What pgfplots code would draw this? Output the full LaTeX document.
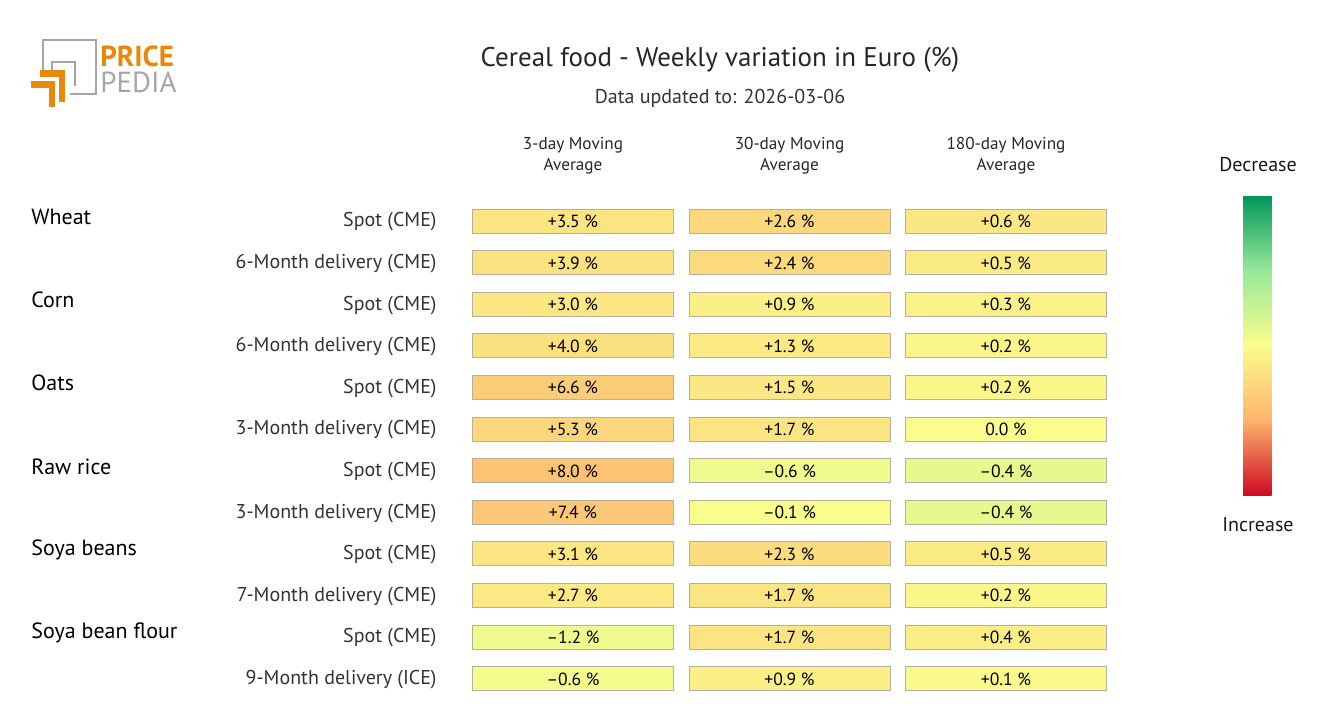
\documentclass[border=0pt]{standalone}
\usepackage{fontspec}
\setmainfont{PT Sans}
\usepackage{pgfplots}
\pgfplotsset{compat=1.18}
\usepackage{pgfplotstable}

% weekly variation (%), one table per moving-average column
\pgfplotstableread{
row val lab
0 3.5 +3.5
1 3.9 +3.9
2 3.0 +3.0
3 4.0 +4.0
4 6.6 +6.6
5 5.3 +5.3
6 8.0 +8.0
7 7.4 +7.4
8 3.1 +3.1
9 2.7 +2.7
10 -1.2 –1.2
11 -0.6 –0.6
}\maThree
\pgfplotstableread{
row val lab
0 2.6 +2.6
1 2.4 +2.4
2 0.9 +0.9
3 1.3 +1.3
4 1.5 +1.5
5 1.7 +1.7
6 -0.6 –0.6
7 -0.1 –0.1
8 2.3 +2.3
9 1.7 +1.7
10 1.7 +1.7
11 0.9 +0.9
}\maThirty
\pgfplotstableread{
row val lab
0 0.6 +0.6
1 0.5 +0.5
2 0.3 +0.3
3 0.2 +0.2
4 0.2 +0.2
5 0.0 0.0
6 -0.4 –0.4
7 -0.4 –0.4
8 0.5 +0.5
9 0.2 +0.2
10 0.4 +0.4
11 0.1 +0.1
}\maHundred

\definecolor{ppor}{RGB}{232,137,12}
\definecolor{ppgr}{RGB}{165,165,165}
\definecolor{cellborder}{RGB}{185,175,155}

\pgfdeclareplotmark{cell}{%
  \pgfpathrectangle{\pgfqpoint{-50.25pt}{-6pt}}{\pgfqpoint{100.5pt}{12pt}}%
  \pgfusepathqfillstroke}

\pgfplotsset{
  colormap={pp}{rgb255(0)=(0,150,90) rgb255(1)=(150,232,154) rgb255(2)=(250,253,140)
                rgb255(3)=(253,180,110) rgb255(4)=(205,10,35)},
  cellplot/.style={
    scatter, only marks, mark=cell, line width=0.5pt,
    scatter/use mapped color={draw=cellborder, fill=mapped color},
  },
  textplot/.style={
    only marks, mark=none, point meta=explicit symbolic,
    nodes near coords={\pgfplotspointmeta\ \%},
    every node near coord/.style={text=black, font=\fontsize{8.8}{9}\selectfont, inner sep=0pt},
  },
}

\begin{document}
\begin{tikzpicture}
\begin{axis}[
  width=660pt, height=360pt, scale only axis,
  xmin=0, xmax=1320, ymin=0, ymax=720, y dir=reverse,
  hide axis, clip=false,
  colormap name=pp,
  point meta min=-20, point meta max=20,
  colorbar,
  colorbar style={
    at={(parent axis.north west)}, anchor=north west,
    xshift=613pt, yshift=-97.5pt,
    width=15pt, height=150pt,
    y dir=reverse,
    ytick=\empty, axis line style={draw=none},
  },
]
\addplot[cellplot, point meta={\thisrow{val}}] table[x expr=573, y expr=221+41.6*\thisrow{row}] {\maThree};
\addplot[cellplot, point meta={2*\thisrow{val}}] table[x expr=789.5, y expr=221+41.6*\thisrow{row}] {\maThirty};
\addplot[cellplot, point meta={5*\thisrow{val}}] table[x expr=1006, y expr=221+41.6*\thisrow{row}] {\maHundred};
\addplot[textplot] table[x expr=573, y expr=228+41.6*\thisrow{row}, meta=lab] {\maThree};
\addplot[textplot] table[x expr=789.5, y expr=228+41.6*\thisrow{row}, meta=lab] {\maThirty};
\addplot[textplot] table[x expr=1006, y expr=228+41.6*\thisrow{row}, meta=lab] {\maHundred};

% titles
\node[font=\fontsize{13.5}{15}\selectfont, text=black!85] at (axis cs:720,59.5) {Cereal food - Weekly variation in Euro (\%)};
\node[font=\fontsize{10}{12}\selectfont, text=black!80] at (axis cs:720,98) {Data updated to: 2026-03-06};

% column headers
\foreach \x/\a in {573/3-day, 789.5/30-day, 1006/180-day} {
  \edef\tmp{\noexpand\node[font=\noexpand\fontsize{8.6}{10.5}\noexpand\selectfont, align=center, text=black!85]
    at (axis cs:\x,156) {\a\space Moving\noexpand\\Average};}
  \tmp
}

% row labels
\foreach \y/\t in {217/Wheat, 300/Corn, 383/Oats, 467/Raw rice, 550/Soya beans, 633/Soya bean flour} {
  \edef\tmp{\noexpand\node[anchor=west, inner sep=0pt, font=\noexpand\fontsize{11}{12}\noexpand\selectfont, text=black] at (axis cs:31,\y) {\t};}
  \tmp
}
\foreach \r/\t in {0/Spot (CME), 1/6-Month delivery (CME), 2/Spot (CME), 3/6-Month delivery (CME),
                   4/Spot (CME), 5/3-Month delivery (CME), 6/Spot (CME), 7/3-Month delivery (CME),
                   8/Spot (CME), 9/7-Month delivery (CME), 10/Spot (CME), 11/9-Month delivery (ICE)} {
  \pgfmathsetmacro\yy{222+41.6*\r}
  \edef\tmp{\noexpand\node[anchor=east, inner sep=0pt, font=\noexpand\fontsize{10}{12}\noexpand\selectfont, text=black!80] at (axis cs:437,\yy) {\t};}
  \tmp
}

% colour scale labels
\node[font=\fontsize{10}{12}\selectfont, text=black!90] at (axis cs:1258,165) {Decrease};
\node[font=\fontsize{10}{12}\selectfont, text=black!90] at (axis cs:1258,525) {Increase};

% logo
\draw[ppgr, line width=1.4pt] (axis cs:43,72) -- (axis cs:43,40) -- (axis cs:96,40) -- (axis cs:96,94) -- (axis cs:70,94);
\draw[ppgr, line width=1.4pt] (axis cs:52,72) -- (axis cs:52,62) -- (axis cs:75,62) -- (axis cs:75,86);
\draw[ppor, line width=3.4pt] (axis cs:40,73.5) -- (axis cs:62,73.5) -- (axis cs:62,102);
\draw[ppor, line width=3.4pt] (axis cs:31,84.5) -- (axis cs:52,84.5) -- (axis cs:52,107);
\node[anchor=base west, inner sep=0pt, text=ppor, font=\bfseries\fontsize{14.5}{15}\selectfont] at (axis cs:100,66) {PRICE};
\node[anchor=base west, inner sep=0pt, text=ppgr, font=\fontsize{14.5}{15}\selectfont] at (axis cs:100,92) {PEDIA};
\end{axis}
\pgfresetboundingbox
\path (current axis.south west) rectangle (current axis.north east);
\end{tikzpicture}
\end{document}
